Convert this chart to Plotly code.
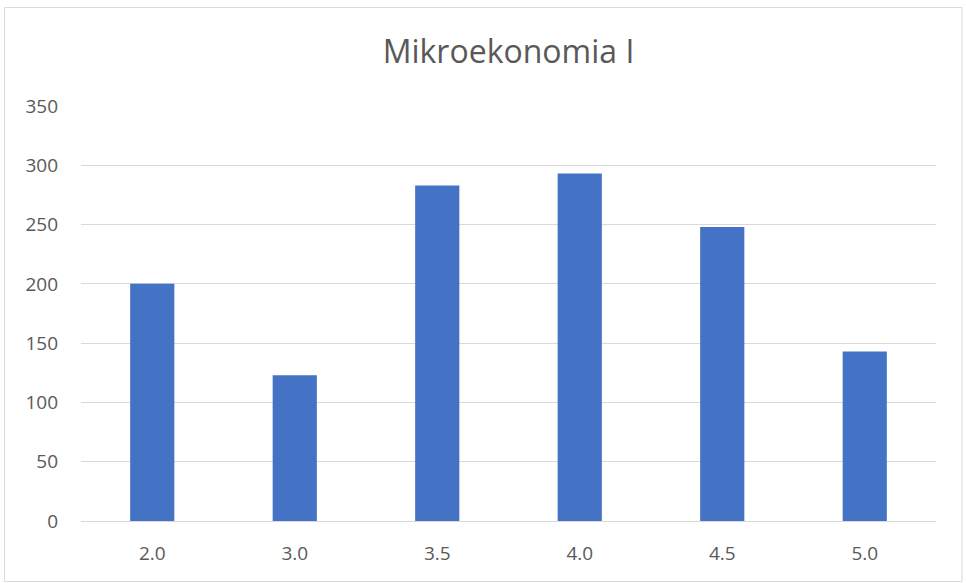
import plotly.graph_objects as go

categories = ["2.0", "3.0", "3.5", "4.0", "4.5", "5.0"]
values = [200, 123, 283, 293, 248, 143]
y_ticks = [0, 50, 100, 150, 200, 250, 300, 350]
title_text = "Mikroekonomia I"

L, R, T, B = 81, 30, 106, 62
W, H = 966, 583
pw, ph = W - L - R, H - T - B

def px_to_paper_x(px):
    return (px - L) / pw

def px_to_paper_y(py):
    return (H - B - py) / ph

fig = go.Figure(go.Bar(x=categories, y=values, marker=dict(color="#4472C4", line=dict(width=0)),
                       hoverinfo="x+y"))

fig.update_layout(
    width=W, height=H,
    margin=dict(l=L, r=R, t=T, b=B, pad=0),
    paper_bgcolor="white", plot_bgcolor="white",
    bargap=0.69,
    showlegend=False,
    font=dict(family="Open Sans", color="#595959"),
    title=dict(text=title_text, x=0.5, xanchor="center", xref="paper",
               y=1 - 52 / H, yanchor="middle",
               font=dict(size=32, color="#595959", family="Open Sans")),
    xaxis=dict(type="category", showgrid=False, showline=True, linecolor="#D9D9D9", linewidth=1,
               ticks="", tickfont=dict(size=19, color="#595959"), ticklabelstandoff=15),
    yaxis=dict(range=[0, 350], tickvals=y_ticks, showgrid=True, gridcolor="#D9D9D9", gridwidth=1,
               zeroline=False, showline=False, ticks="",
               tickfont=dict(size=19, color="#595959"), ticklabelstandoff=22),
    shapes=[dict(type="rect", xref="paper", yref="paper",
                 x0=px_to_paper_x(4.5), x1=px_to_paper_x(962), y0=px_to_paper_y(581.5), y1=px_to_paper_y(7.5),
                 line=dict(color="#D9D9D9", width=1), fillcolor="rgba(0,0,0,0)", layer="below")],
)

fig.write_html("out.html", config={"displayModeBar": False},
               post_script="document.body.style.margin='0px';")
